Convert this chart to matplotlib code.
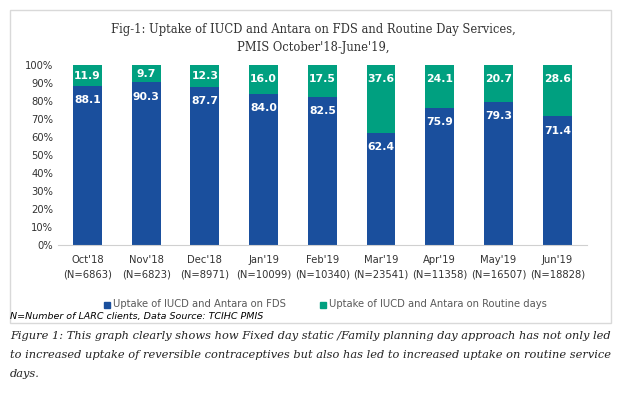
import numpy as np
import matplotlib.pyplot as plt
from matplotlib.patches import Rectangle

months = ["Oct'18", "Nov'18", "Dec'18", "Jan'19", "Feb'19", "Mar'19", "Apr'19", "May'19", "Jun'19"]
n_clients = [6863, 6823, 8971, 10099, 10340, 23541, 11358, 16507, 18828]
fds = [88.1, 90.3, 87.7, 84.0, 82.5, 62.4, 75.9, 79.3, 71.4]
routine = [11.9, 9.7, 12.3, 16.0, 17.5, 37.6, 24.1, 20.7, 28.6]

blue = '#1a4f9d'
green = '#00a080'

fig = plt.figure(figsize=(6.22, 3.94), dpi=100)
ax = fig.add_axes([58/622, 1-245/394, (586.7-58)/622, (245-65)/394])

x = np.arange(len(months))
ax.bar(x, fds, width=0.49, color=blue, label='Uptake of IUCD and Antara on FDS')
ax.bar(x, routine, width=0.49, bottom=fds, color=green, label='Uptake of IUCD and Antara on Routine days')

# labels sit near the top of each segment (inside end)
for i in range(len(months)):
    off1 = min(7.8, fds[i] / 2)
    off2 = min(7.8, routine[i] / 2)
    ax.text(x[i], fds[i] - off1, '%.1f' % fds[i], ha='center', va='center',
            color='white', fontsize=7.8, fontweight='bold')
    ax.text(x[i], fds[i] + routine[i] - off2, '%.1f' % routine[i], ha='center', va='center',
            color='white', fontsize=7.8, fontweight='bold')

ax.set_xlim(-0.5, len(months) - 0.5)
ax.set_ylim(0, 100)
ax.set_yticks(np.arange(0, 101, 10))
ax.set_yticklabels(['%d%%' % v for v in range(0, 101, 10)])
ax.set_xticks(x)
ax.set_xticklabels(['%s\n(N=%d)' % (m, n) for m, n in zip(months, n_clients)], linespacing=1.6)
ax.tick_params(axis='both', length=0, labelsize=7.2, colors='#333333')
ax.tick_params(axis='x', pad=7)
for s in ['top', 'right', 'left']:
    ax.spines[s].set_visible(False)
ax.spines['bottom'].set_color('#d0d0d0')

fig.text(313/622, 1-30/394, "Fig-1: Uptake of IUCD and Antara on FDS and Routine Day Services,",
         ha='center', va='center', family='DejaVu Serif', fontsize=8.3, color='#333333')
fig.text(313/622, 1-48/394, "PMIS October'18-June'19,",
         ha='center', va='center', family='DejaVu Serif', fontsize=8.3, color='#333333')

# legend
fig.patches.append(Rectangle((104/622, 1-308/394), 6/622, 6/394, transform=fig.transFigure, color=blue))
fig.text(113/622, 1-304/394, 'Uptake of IUCD and Antara on FDS', ha='left', va='center',
         fontsize=7.2, color='#595959')
fig.patches.append(Rectangle((320/622, 1-308/394), 6/622, 6/394, transform=fig.transFigure, color=green))
fig.text(329/622, 1-304/394, 'Uptake of IUCD and Antara on Routine days', ha='left', va='center',
         fontsize=7.2, color='#595959')

fig.text(10/622, 1-317/394, 'N=Number of LARC clients, Data Source: TCIHC PMIS', ha='left', va='center',
         fontsize=6.8, style='italic', color='black')

# border box
fig.patches.append(Rectangle((10/622, 1-323/394), 601/622, 313/394, transform=fig.transFigure,
                             fill=False, edgecolor='#d9d9d9', linewidth=1))

caption = ["Figure 1: This graph clearly shows how Fixed day static /Family planning day approach has not only led",
           "to increased uptake of reversible contraceptives but also has led to increased uptake on routine service",
           "days."]
for k, line in enumerate(caption):
    fig.text(10/622, 1-(336 + 19*k)/394, line, ha='left', va='center', family='DejaVu Serif',
             style='italic', fontsize=8.2, color='#222222')

fig.savefig('out.png', dpi=100)
